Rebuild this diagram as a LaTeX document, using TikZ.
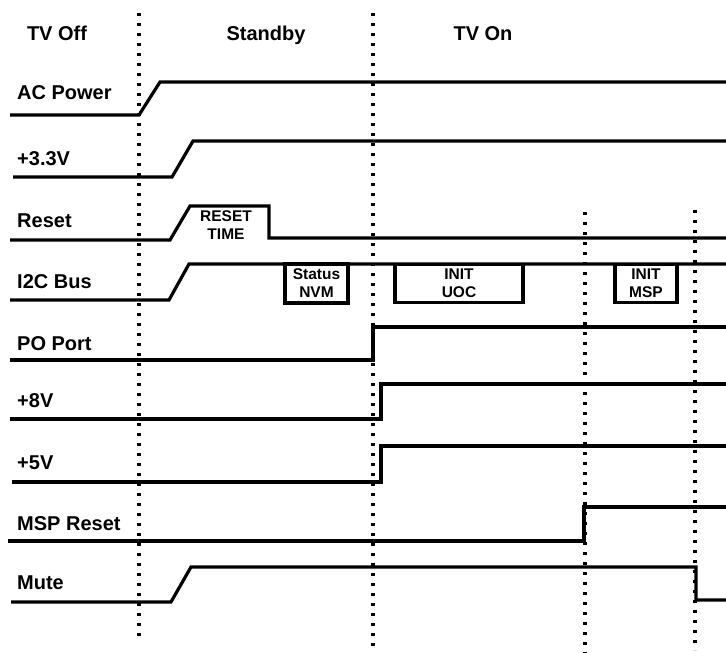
\documentclass[tikz,border=0pt]{standalone}
\usepackage{fontspec}
\setmainfont{Liberation Sans}
\begin{document}
\begin{tikzpicture}[x=1pt,y=-1pt,
  sig/.style={line width=3.2pt},
  dotline/.style={line width=3.4pt,dash pattern=on 3.4pt off 6.6pt},
  lbl/.style={anchor=base west,inner sep=0pt,font=\fontsize{20}{23}\selectfont\bfseries},
  hdr/.style={anchor=base,inner sep=0pt,font=\fontsize{20}{23}\selectfont\bfseries},
  boxtxt/.style={draw,line width=3.2pt,inner sep=0pt,align=center,font=\fontsize{15.5}{18}\selectfont\bfseries},
  plaintxt/.style={inner sep=0pt,align=center,font=\fontsize{15.5}{18}\selectfont\bfseries}]
\useasboundingbox (0,0) rectangle (726,653);
% dotted phase lines
\coordinate (d1t) at (139,13);  \coordinate (d1b) at (139,640);
\coordinate (d2t) at (373,13);  \coordinate (d2b) at (373,650);
\coordinate (d3t) at (585,212); \coordinate (d3b) at (585,653);
\coordinate (d4t) at (695,210); \coordinate (d4b) at (695,650);
\draw[dotline] (d1t) -- (d1b);
\draw[dotline] (d2t) -- (d2b);
\draw[dotline] (d3t) -- (d3b);
\draw[dotline] (d4t) -- (d4b);
% headers
\node[hdr] (hoff) at (57,40) {TV Off};
\node[hdr] (hstb) at (266,40) {Standby};
\node[hdr] (hon) at (483,40) {TV On};
% labels
\node[lbl] (lac) at (17,99) {AC Power};
\node[lbl] (l33) at (17,165) {+3.3V};
\node[lbl] (lrs) at (17,227) {Reset};
\node[lbl] (li2c) at (17,288) {I2C Bus};
\node[lbl] (lpo) at (17,350) {PO Port};
\node[lbl] (l8) at (17,407) {+8V};
\node[lbl] (l5) at (17,469) {+5V};
\node[lbl] (lmsp) at (17,530) {MSP Reset};
\node[lbl] (lmute) at (17,589) {Mute};
% signals
\draw[sig] (10,115) -- (139,115) -- (160,82) -- (726,82);
\draw[sig] (13,177) -- (172,177) -- (193,141) -- (726,141);
\draw[sig] (10,240) -- (170,240) -- (190,206) -- (269,206) -- (269,238) -- (726,238);
\draw[sig] (10,300) -- (169,300) -- (189,264) -- (726,264);
\draw[sig] (10,360) -- (373,360) -- (373,327) -- (726,327);
\draw[sig] (10,419) -- (381,419) -- (381,384) -- (726,384);
\draw[sig] (12,482) -- (381,482) -- (381,446) -- (726,446);
\draw[sig] (8,541) -- (584,541) -- (584,507) -- (726,507);
\draw[sig] (11,602) -- (171,602) -- (191,567) -- (696,567) -- (696,600) -- (726,600);
% annotations
\node[plaintxt] (rt) at (226,225.5) {RESET\\TIME};
\node[boxtxt,minimum width=63pt,minimum height=39pt] (nvm) at (316.5,283.5) {Status\\NVM};
\node[boxtxt,minimum width=128pt,minimum height=38pt] (uoc) at (459,283.5) {INIT\\UOC};
\node[boxtxt,minimum width=62pt,minimum height=38pt] (imsp) at (646,283.5) {INIT\\MSP};
\end{tikzpicture}
\end{document}
